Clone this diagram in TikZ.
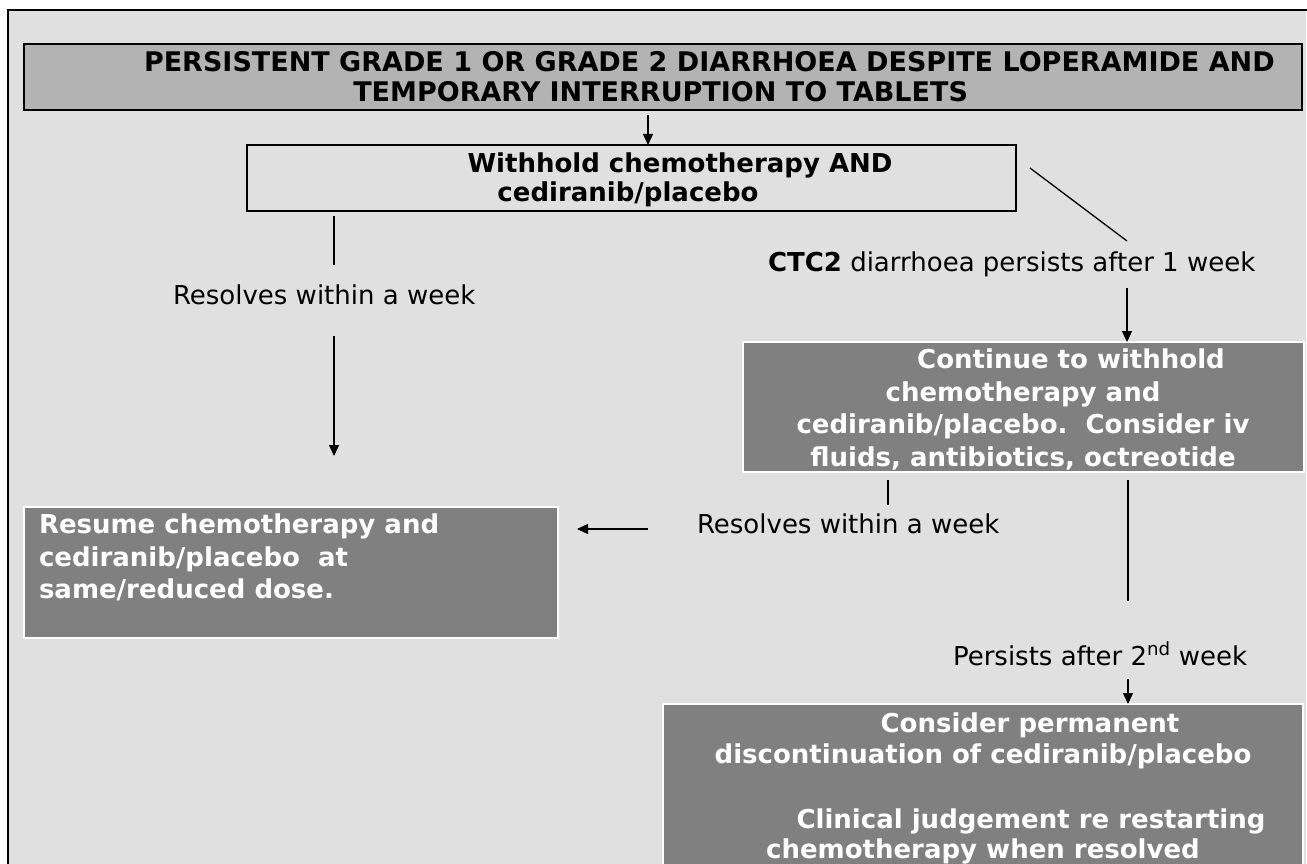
\documentclass[tikz,border=0pt]{standalone}
\usepackage{fontspec}
\setmainfont{DejaVu Sans}
\usetikzlibrary{arrows.meta}
\definecolor{bgc}{HTML}{E0E0E0}
\definecolor{lightbox}{HTML}{B3B3B3}
\definecolor{darkbox}{HTML}{808080}
\begin{document}
\begin{tikzpicture}[x=1pt,y=-1pt,
  txt/.style={inner sep=0pt,outer sep=0pt,font=\fontsize{26}{32}\selectfont},
  btxt/.style={inner sep=0pt,outer sep=0pt,font=\fontsize{26}{32}\selectfont\bfseries},
  toptxt/.style={inner sep=0pt,outer sep=0pt,font=\fontsize{27}{32}\selectfont\bfseries},
  wtxt/.style={btxt,text=white},
  boxbase/.style={rectangle,inner sep=0pt,outer sep=0pt,anchor=north west},
  lightbx/.style={boxbase,draw=black,line width=2pt,fill=lightbox},
  plainbx/.style={boxbase,draw=black,line width=1.5pt},
  darkbx/.style={boxbase,draw=white,line width=2pt,fill=darkbox},
  conn/.style={line width=1.3pt},
  arr/.style={conn,-{Triangle[length=11pt,width=10pt]}}]
\useasboundingbox (0,0) rectangle (1307,864);
\clip (0,0) rectangle (1307,864);
\fill[white] (0,0) rectangle (1307,864);
\fill[bgc] (8,10) rectangle (1306,880);
\draw[line width=2.5pt] (8,880) -- (8,10) -- (1307,10);

% boxes
\node[lightbx,minimum width=1278pt,minimum height=66pt] (top) at (24,44) {};
\node[plainbx,minimum width=769pt,minimum height=66pt] (withhold) at (247,145) {};
\node[darkbx,minimum width=561pt,minimum height=130pt] (cont) at (743,342) {};
\node[darkbx,minimum width=534pt,minimum height=131pt] (resume) at (24,507) {};
\node[darkbx,minimum width=640pt,minimum height=200pt] (consider) at (663,704) {};

% texts
\node[toptxt,anchor=base west] (t1) at (144,72) {PERSISTENT GRADE 1 OR GRADE 2 DIARRHOEA DESPITE LOPERAMIDE AND};
\node[toptxt,anchor=base east] (t2) at (968,102) {TEMPORARY INTERRUPTION TO TABLETS};
\node[btxt,anchor=base] (w1) at (680,172) {Withhold chemotherapy AND};
\node[btxt,anchor=base] (w2) at (628,201) {cediranib/placebo};

\node[txt,anchor=base west] (lab1) at (173,304) {Resolves within a week};
\node[txt,anchor=base west] (lab2) at (768,271) {\textbf{CTC2} diarrhoea persists after 1 week};

\node[wtxt,anchor=base] (c1) at (1071,368) {Continue to withhold};
\node[wtxt,anchor=base] (c2) at (1023,401) {chemotherapy and};
\node[wtxt,anchor=base] (c3) at (1023,433) {cediranib/placebo.\ \ Consider iv};
\node[wtxt,anchor=base] (c4) at (1023,466) {fluids, antibiotics, octreotide};

\node[wtxt,anchor=base west] (r1) at (39,533) {Resume chemotherapy and};
\node[wtxt,anchor=base west] (r2) at (39,566) {cediranib/placebo\ \ at};
\node[wtxt,anchor=base west] (r3) at (39,598) {same/reduced dose.};

\node[txt,anchor=base west] (lab3) at (697,533) {Resolves within a week};
\node[txt,anchor=base west] (lab4) at (953,665) {Persists after 2\textsuperscript{nd} week};

\node[wtxt,anchor=base] (k1) at (1030,732) {Consider permanent};
\node[wtxt,anchor=base] (k2) at (983,763) {discontinuation of cediranib/placebo};
\node[wtxt,anchor=base] (k3) at (1031,828) {Clinical judgement re restarting};
\node[wtxt,anchor=base] (k4) at (983,858) {chemotherapy when resolved};

% connector end points
\coordinate (a1s) at (648,115);
\coordinate (d1s) at (1030,168);
\coordinate (d1e) at (1127,241);
\coordinate (l1s) at (334,216);
\coordinate (l1e) at (334,265);
\coordinate (a2s) at (334,336);
\coordinate (a2e) at (334,456);
\coordinate (a3s) at (1127,288);
\coordinate (l2s) at (888,480);
\coordinate (l2e) at (888,505);
\coordinate (a4s) at (648,529);
\coordinate (a4e) at (577,529);
\coordinate (l3s) at (1128,480);
\coordinate (l3e) at (1128,601);
\coordinate (a5s) at (1128,679);

\draw[arr] (a1s) -- (a1s |- withhold.north);
\draw[conn] (d1s) -- (d1e);
\draw[conn] (l1s) -- (l1e);
\draw[arr] (a2s) -- (a2e);
\draw[arr] (a3s) -- (a3s |- cont.north);
\draw[conn] (l2s) -- (l2e);
\draw[arr] (a4s) -- (a4e);
\draw[conn] (l3s) -- (l3e);
\draw[arr] (a5s) -- (a5s |- consider.north);
\end{tikzpicture}
\end{document}
